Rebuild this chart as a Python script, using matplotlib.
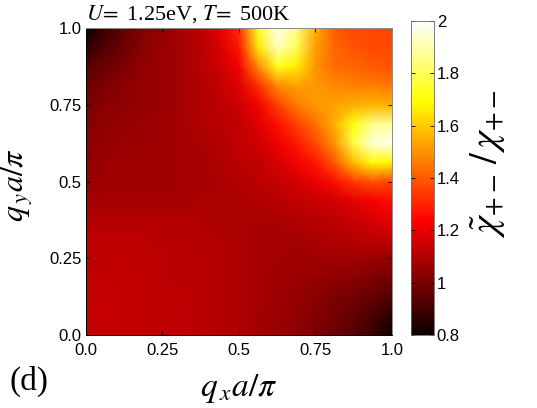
import numpy as np
import matplotlib
matplotlib.use("Agg")
import matplotlib.pyplot as plt

plt.rcParams["font.family"] = "Liberation Sans"
plt.rcParams["mathtext.fontset"] = "stix"

# momentum grid (units of pi/a), 17 nodes along each direction
qx = np.linspace(0.0, 1.0, 17)
qy = np.linspace(0.0, 1.0, 17)

# chi~_{+-} / chi_{+-} on the grid, rows run from qy = 0 (bottom) to qy = 1 (top)
ratio = [
    [1.13, 1.13, 1.13, 1.13, 1.12, 1.12, 1.11, 1.10, 1.09, 1.08, 1.06, 1.04, 1.01, 0.98, 0.94, 0.88, 0.81],
    [1.13, 1.14, 1.13, 1.13, 1.12, 1.12, 1.11, 1.10, 1.09, 1.08, 1.06, 1.04, 1.02, 0.99, 0.96, 0.91, 0.86],
    [1.13, 1.14, 1.13, 1.13, 1.12, 1.12, 1.11, 1.10, 1.09, 1.08, 1.07, 1.05, 1.03, 1.01, 0.99, 0.96, 0.93],
    [1.13, 1.13, 1.13, 1.13, 1.12, 1.11, 1.11, 1.10, 1.09, 1.08, 1.07, 1.06, 1.05, 1.04, 1.03, 1.01, 0.99],
    [1.12, 1.13, 1.13, 1.12, 1.12, 1.11, 1.11, 1.10, 1.09, 1.08, 1.08, 1.07, 1.07, 1.07, 1.07, 1.06, 1.05],
    [1.12, 1.12, 1.12, 1.12, 1.11, 1.11, 1.10, 1.10, 1.09, 1.08, 1.08, 1.08, 1.09, 1.10, 1.11, 1.12, 1.13],
    [1.10, 1.10, 1.10, 1.10, 1.10, 1.10, 1.10, 1.09, 1.09, 1.09, 1.09, 1.10, 1.11, 1.12, 1.14, 1.17, 1.19],
    [1.08, 1.08, 1.08, 1.08, 1.08, 1.08, 1.09, 1.09, 1.09, 1.10, 1.11, 1.13, 1.14, 1.16, 1.19, 1.23, 1.26],
    [1.05, 1.07, 1.07, 1.07, 1.07, 1.08, 1.08, 1.09, 1.10, 1.12, 1.13, 1.16, 1.20, 1.26, 1.34, 1.38, 1.36],
    [1.04, 1.06, 1.07, 1.07, 1.07, 1.08, 1.08, 1.10, 1.12, 1.13, 1.17, 1.22, 1.28, 1.40, 1.58, 1.70, 1.68],
    [1.03, 1.05, 1.06, 1.06, 1.07, 1.08, 1.09, 1.10, 1.13, 1.15, 1.21, 1.28, 1.37, 1.50, 1.78, 1.96, 1.97],
    [1.02, 1.04, 1.05, 1.06, 1.07, 1.08, 1.10, 1.11, 1.13, 1.18, 1.26, 1.35, 1.44, 1.55, 1.72, 1.86, 1.88],
    [1.00, 1.03, 1.04, 1.05, 1.06, 1.08, 1.10, 1.12, 1.15, 1.22, 1.35, 1.46, 1.51, 1.53, 1.55, 1.56, 1.55],
    [0.98, 1.01, 1.03, 1.05, 1.06, 1.08, 1.10, 1.13, 1.18, 1.32, 1.48, 1.53, 1.51, 1.48, 1.47, 1.47, 1.45],
    [0.94, 0.98, 1.01, 1.04, 1.06, 1.08, 1.11, 1.15, 1.22, 1.48, 1.72, 1.66, 1.50, 1.43, 1.42, 1.40, 1.39],
    [0.87, 0.93, 0.98, 1.03, 1.06, 1.08, 1.11, 1.17, 1.28, 1.65, 1.92, 1.80, 1.52, 1.42, 1.39, 1.37, 1.37],
    [0.81, 0.89, 0.96, 1.02, 1.05, 1.08, 1.12, 1.19, 1.32, 1.75, 1.98, 1.85, 1.55, 1.40, 1.37, 1.37, 1.36],
]

q_ticks = [0.0, 0.25, 0.5, 0.75, 1.0]
q_ticklabels = ["0.0", "0.25", "0.5", "0.75", "1.0"]
cb_ticks = [0.8, 1.0, 1.2, 1.4, 1.6, 1.8, 2.0]
cb_ticklabels = ["0.8", "1", "1.2", "1.4", "1.6", "1.8", "2"]

fig = plt.figure(figsize=(5.37, 4.08), dpi=100)
ax = fig.add_axes([0.160, 0.179, 0.570, 0.752])

mesh = ax.pcolormesh(qx, qy, np.array(ratio), cmap="hot", vmin=0.8, vmax=2.0,
                     shading="gouraud")
ax.set_xlim(0, 1)
ax.set_ylim(0, 1)
ax.set_xticks(q_ticks)
ax.set_xticklabels(q_ticklabels)
ax.set_yticks(q_ticks)
ax.set_yticklabels(q_ticklabels)
ax.tick_params(direction="in", length=3, width=0.6, top=True, right=True,
               labelsize=12, pad=3)
ax.tick_params(axis="x", pad=6)
for side in ["left", "bottom"]:
    ax.spines[side].set_linewidth(0.7)
for side in ["top", "right"]:
    ax.spines[side].set_linewidth(0.7)
    ax.spines[side].set_color("0.55")

ax.set_xlabel(r"$q_{\,x}a/\pi$", fontsize=24)
ax.xaxis.set_label_coords(0.5, -0.12)
ax.set_ylabel(r"$q_{\,y}a/\pi$", fontsize=23)
ax.yaxis.set_label_coords(-0.165, 0.49)

ax.text(0.0, 1.027, r"$U\!=$ 1.25eV, $T\!=$ 500K", transform=ax.transAxes,
        fontsize=16, family="Liberation Serif", ha="left", va="baseline")

# colorbar with MATLAB-style ticks on both edges
cax = fig.add_axes([0.765, 0.179, 0.043, 0.770])
cb = fig.colorbar(mesh, cax=cax, ticks=cb_ticks)
cb.ax.set_yticklabels(cb_ticklabels)
cb.ax.tick_params(direction="in", length=3, width=0.6, left=True, right=True,
                  labelsize=12, pad=2)
cb.outline.set_linewidth(0.6)
cb.outline.set_edgecolor("0.4")

fig.text(0.908, 0.6, r"$\tilde{\chi}_{+-}\,/\,\chi_{+-}$",
         rotation=90, fontsize=28, ha="center", va="center")

fig.text(0.018, 0.045, "(d)", fontsize=24, family="Liberation Serif",
         ha="left", va="baseline")

fig.savefig("out.png", dpi=100)
